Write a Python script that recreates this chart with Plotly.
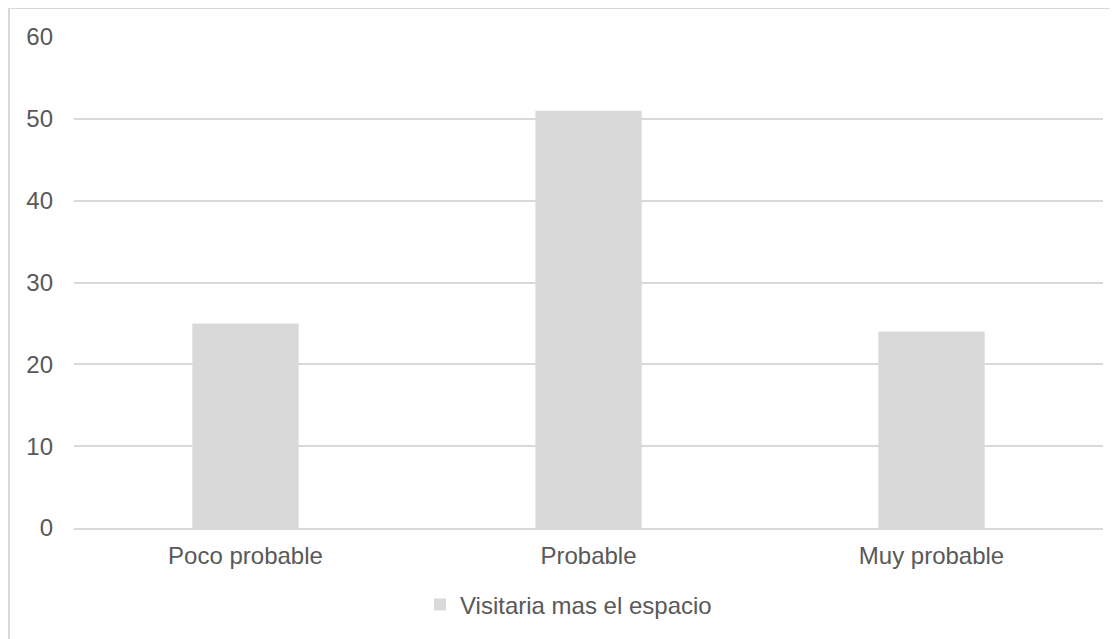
import plotly.graph_objects as go

categories = ["Poco probable", "Probable", "Muy probable"]
values = [25, 51, 24]
series_name = "Visitaria mas el espacio"
y_ticks = [0, 10, 20, 30, 40, 50, 60]

# page body has an 8px margin; work in figure coordinates
OFF = 8
W, H = 1118, 639
L, T = 74 - OFF, 37 - OFF
R = W - (1103 - OFF)
B = H - (528 - OFF)
pw, ph = W - L - R, H - T - B

def px_x(sx):
    return (sx - OFF - L) / pw

def px_y(sy):
    return (H - B - (sy - OFF)) / ph

fig = go.Figure()
fig.add_trace(go.Bar(
    x=categories, y=values, name=series_name,
    marker=dict(color="#d9d9d9", line=dict(width=0)),
    width=0.31, showlegend=True,
))

font = dict(family="Liberation Sans, Arial, sans-serif", size=24, color="#595959")

fig.update_layout(
    width=W, height=H,
    margin=dict(l=L, r=R, t=T, b=B, autoexpand=False),
    paper_bgcolor="white", plot_bgcolor="white",
    font=font,
    showlegend=True,
    legend=dict(orientation="h", x=px_x(420), xanchor="left", y=px_y(605), yanchor="middle",
                font=font, itemwidth=30),
    xaxis=dict(showgrid=False, showline=True, linecolor="#d9d9d9", linewidth=2,
               ticks="", tickfont=font, ticklabelstandoff=5, fixedrange=True),
    yaxis=dict(range=[0, 60], tickvals=y_ticks, showgrid=True, gridcolor="#d9d9d9",
               gridwidth=1.5, zeroline=False, showline=False, ticks="",
               tickfont=font, ticklabelstandoff=20),
    bargap=0.69,
    shapes=[dict(type="rect", xref="paper", yref="paper",
                 x0=px_x(9), x1=px_x(1140), y0=px_y(660), y1=px_y(8),
                 line=dict(color="#d9d9d9", width=2), fillcolor="rgba(0,0,0,0)", layer="below")],
)

fig.write_html("out.html")
